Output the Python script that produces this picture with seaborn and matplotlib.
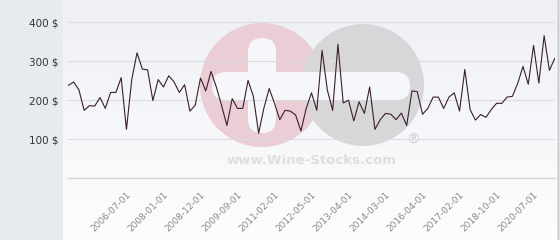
import numpy as np
import pandas as pd
import matplotlib
matplotlib.use("Agg")
import matplotlib.pyplot as plt
import seaborn as sns
from matplotlib.patches import Circle, FancyBboxPatch
from matplotlib.colors import LinearSegmentedColormap

# ---- data ----
prices = [238, 247, 227, 174, 186, 185, 207, 179, 220, 220,
          258, 125, 253, 322, 280, 278, 199, 253, 234, 263,
          247, 220, 240, 172, 187, 257, 224, 274, 234, 186,
          135, 204, 179, 179, 251, 210, 115, 180, 230, 192,
          150, 174, 172, 162, 121, 179, 219, 174, 328, 226,
          174, 344, 193, 200, 147, 196, 166, 234, 125, 150,
          166, 164, 150, 167, 135, 224, 222, 164, 179, 208,
          208, 179, 208, 219, 172, 279, 176, 149, 163, 156,
          176, 192, 192, 208, 210, 243, 287, 241, 341, 244,
          366, 277, 307]
tick_labels = ["2006-07-01", "2008-01-01", "2008-12-01", "2009-09-01",
               "2011-02-01", "2012-05-01", "2013-04-01", "2014-03-01",
               "2016-04-01", "2017-02-01", "2018-10-01", "2020-07-01"]
tick_index = [11, 18, 25, 32, 39, 46, 53, 60, 67, 74, 81, 88]
y_ticks = [0, 100, 200, 300, 400]
y_labels = ["", "100 $", "200 $", "300 $", "400 $"]

df = pd.DataFrame({"idx": np.arange(len(prices)), "price": prices})

W, H = 560, 240
fig = plt.figure(figsize=(W / 100, H / 100), dpi=100, facecolor="#e7ebee")

# background gradient of plot area
bg = fig.add_axes([63 / W, 0, (557 - 63) / W, 1], zorder=0)
grad = np.linspace(0, 1, 256).reshape(-1, 1)
cmap = LinearSegmentedColormap.from_list("g", ["#eef0f5", "#fdfdfe"])
bg.imshow(grad, aspect="auto", cmap=cmap, extent=[0, 1, 0, 1], origin="upper")
bg.axis("off")

# watermark layer (pixel coordinates)
wm = fig.add_axes([0, 0, 1, 1], zorder=1)
wm.set_xlim(0, W)
wm.set_ylim(H, 0)
wm.axis("off")
wm.patch.set_alpha(0)
wm.add_patch(Circle((262, 85), 62, color="#eacdd5", lw=0))
wm.add_patch(Circle((363, 85), 61, color="#d7d7d9", lw=0))
wm.add_patch(FancyBboxPatch((212, 72), 198, 28,
                            boxstyle="round,pad=0,rounding_size=14",
                            color="#f6f7fa", lw=0))
wm.add_patch(FancyBboxPatch((248, 38), 28, 95,
                            boxstyle="round,pad=0,rounding_size=14",
                            color="#f6f7fa", lw=0))
wm.text(312, 161, "www.Wine-Stocks.com", ha="center", va="center",
        fontsize=9.5, fontweight="bold", color="#dedee1")
wm.text(413, 140, "®", ha="center", va="center", fontsize=10, color="#cfcfd2")
wm.plot([557.5, 557.5], [0, H], color="#c8c8c8", lw=1)

# main chart
ax = fig.add_axes([68.3 / W, 62 / H, (554.7 - 68.3) / W, 175 / H], zorder=2)
ax.patch.set_alpha(0)
sns.lineplot(data=df, x="idx", y="price", ax=ax, color="#3b1e2c", linewidth=0.8)
ax.set_xlim(0, len(prices) - 1)
ax.set_ylim(0, 450)
ax.set_yticks(y_ticks)
ax.set_yticklabels(y_labels)
ax.set_xticks(tick_index)
ax.set_xticklabels(tick_labels, rotation=45, ha="right", va="top",
                   rotation_mode="anchor")
ax.grid(axis="y", color="#dcdcdc", lw=0.8)
ax.grid(axis="x", visible=False)
ax.axhline(0, color="#d6d6d6", lw=1.0, clip_on=False, zorder=0.5)
ax.set_axisbelow(True)
for s in ax.spines.values():
    s.set_visible(False)
ax.tick_params(axis="y", length=0, pad=6.7, labelsize=7.5, labelcolor="#333333")
ax.tick_params(axis="x", length=0, pad=9, labelsize=6.5, labelcolor="#8a8a8a")
ax.set_xlabel("")
ax.set_ylabel("")

fig.savefig("out.png", dpi=100, facecolor=fig.get_facecolor())
